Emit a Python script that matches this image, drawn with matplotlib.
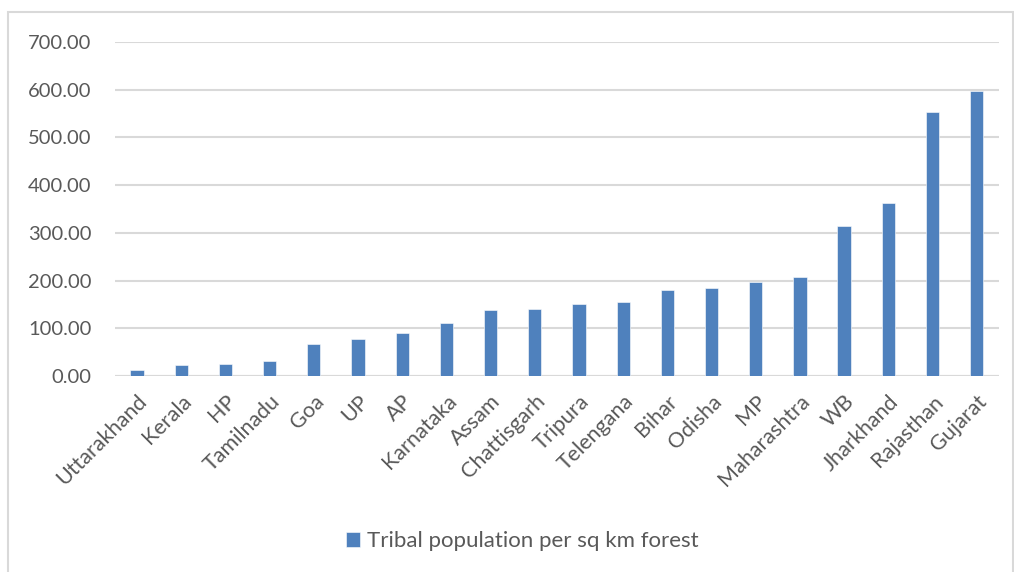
import matplotlib.pyplot as plt
from matplotlib.patches import Rectangle

states = ["Uttarakhand", "Kerala", "HP", "Tamilnadu", "Goa", "UP", "AP",
          "Karnataka", "Assam", "Chattisgarh", "Tripura", "Telengana", "Bihar",
          "Odisha", "MP", "Maharashtra", "WB", "Jharkhand", "Rajasthan", "Gujarat"]
density = [12.5, 23, 26, 31, 67, 77.5, 89.5, 110.5, 137.5, 140, 151, 155,
           181, 183.5, 197, 206.5, 314, 363.5, 554, 598]
yticks = [0, 100, 200, 300, 400, 500, 600, 700]

plt.rcParams['font.family'] = ['Lato', 'DejaVu Sans']

fig = plt.figure(figsize=(10.14, 5.72), dpi=100)
ax = fig.add_axes([0.1134, 0.3427, 0.8716, 0.5839])

x = range(len(states))
ax.bar(x, density, width=0.3, color="#4F81BD", edgecolor="white",
       linewidth=0.4, zorder=3, label="Tribal population per sq km forest")

ax.set_xlim(-0.5, len(states) - 0.5)
ax.set_ylim(0, 700)
ax.set_yticks(yticks)
ax.set_yticklabels([f"{v:.2f}" for v in yticks], fontsize=14.5, color="#595959")
ax.yaxis.grid(True, color="#d9d9d9", linewidth=1.5, zorder=0)
ax.set_xticks(list(x))
ax.set_xticklabels(states, rotation=45, ha="right", rotation_mode="anchor",
                   fontsize=15.5, color="#595959")
ax.tick_params(axis="y", length=0, pad=17)
ax.tick_params(axis="x", length=0, pad=11)
for s in ax.spines.values():
    s.set_visible(False)
ax.axhline(0, color="#d9d9d9", linewidth=1.5, zorder=2)

leg = fig.legend(loc="center", bbox_to_anchor=(0.515, 0.054), frameon=False,
                 fontsize=16, handlelength=0.65, handleheight=0.65,
                 handletextpad=0.3)
for t in leg.get_texts():
    t.set_color("#595959")

# light outer chart frame
fig.patches.append(Rectangle((8 / 1014, -0.05), 1005 / 1014, 1.05 - 12 / 572,
                             transform=fig.transFigure, fill=False,
                             edgecolor="#d9d9d9", linewidth=1.5))

fig.savefig("out.png", dpi=100)
